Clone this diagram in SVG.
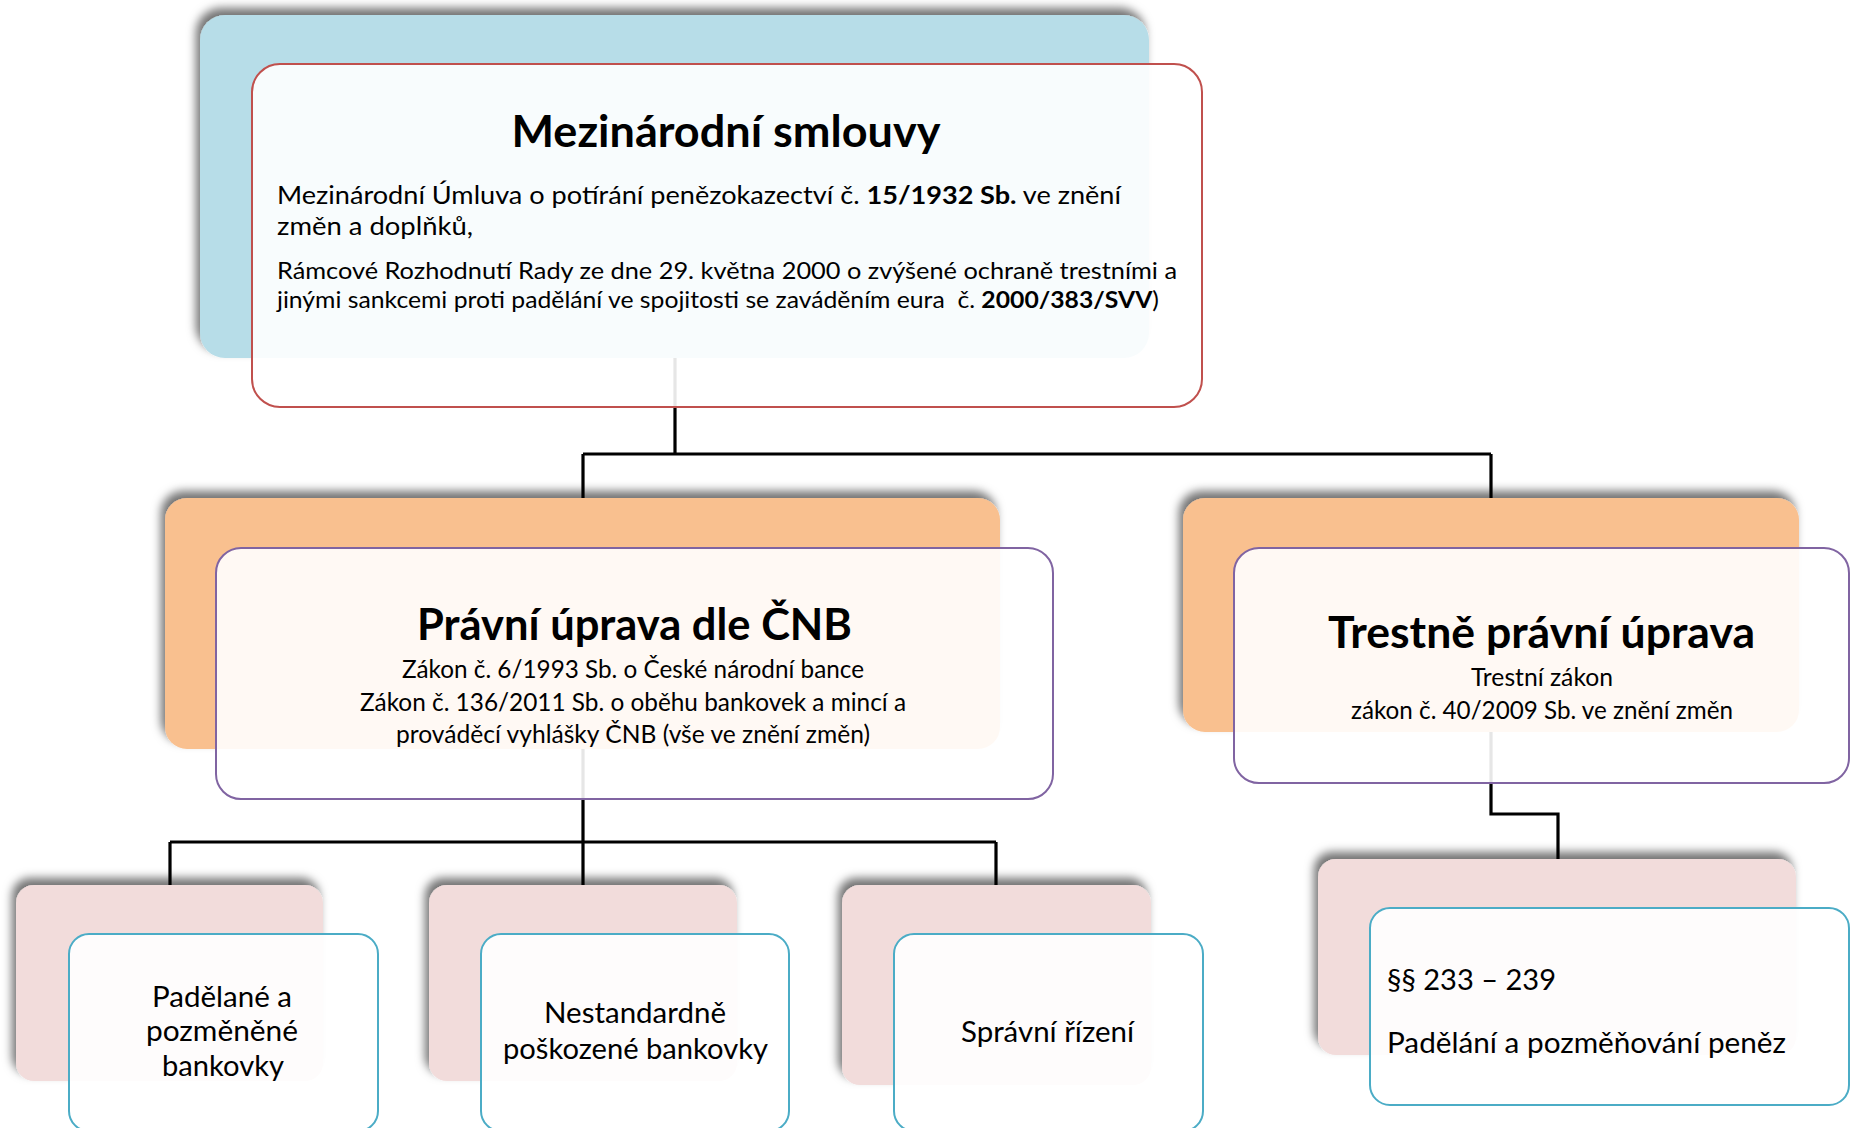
<svg xmlns="http://www.w3.org/2000/svg" width="1855" height="1128" viewBox="0 0 1855 1128">
<style>
text{font-family:"Lato","Noto Sans","Liberation Sans",sans-serif;fill:#000}
.t{font-weight:bold;font-size:43px;text-anchor:middle}
.b{font-size:25px}
.s{font-size:23px}
.c{text-anchor:middle}
.m{font-size:28px}
.front{fill:#fff;fill-opacity:0.9;stroke-width:2}
.red{stroke:#c0504d}
.pur{stroke:#8064a2}
.teal{stroke:#4bacc6}
.conn{fill:none;stroke:#000;stroke-width:3.2}
</style>
<defs>
<filter id="sh" x="-10%" y="-20%" width="120%" height="140%">
<feGaussianBlur in="SourceAlpha" stdDeviation="5"/>
<feOffset dx="-4" dy="-7" result="o"/>
<feFlood flood-color="#000" flood-opacity="0.55"/>
<feComposite in2="o" operator="in"/>
<feMerge><feMergeNode/><feMergeNode in="SourceGraphic"/></feMerge>
</filter>
</defs>
<rect width="1855" height="1128" fill="#fff"/>
<g id="connectors">
<path class="conn" d="M675 340V454M583 454H1491M583 454V510M1491 454V510"/>
<path class="conn" d="M583 740V842M170 842H996M170 842V895M583 842V895M996 842V895"/>
<path class="conn" d="M1491 720V814H1558V870"/>
</g>
<g id="node-mezinarodni">
<rect x="200" y="15" width="949" height="343" rx="25" fill="#b7dde8" filter="url(#sh)"/>
<rect class="front red" x="252" y="64" width="950" height="343" rx="28"/>
<text class="t" x="726" y="147" textLength="429" lengthAdjust="spacingAndGlyphs">Mezinárodní smlouvy</text>
<text class="b" x="277" y="204" textLength="844" lengthAdjust="spacingAndGlyphs">Mezinárodní Úmluva o potírání penězokazectví č. <tspan font-weight="bold">15/1932 Sb.</tspan> ve znění</text>
<text class="b" x="277" y="235" textLength="196" lengthAdjust="spacingAndGlyphs">změn a doplňků,</text>
<text class="s" x="277" y="279" textLength="900" lengthAdjust="spacingAndGlyphs">Rámcové Rozhodnutí Rady ze dne 29. května 2000 o zvýšené ochraně trestními a</text>
<text class="s" x="277" y="308" textLength="882" lengthAdjust="spacingAndGlyphs" style="white-space:pre">jinými sankcemi proti padělání ve spojitosti se zaváděním eura  č. <tspan font-weight="bold">2000/383/SVV</tspan>)</text>
</g>
<g id="node-cnb">
<rect x="165" y="498" width="835" height="251" rx="22" fill="#f9c08f" filter="url(#sh)"/>
<rect class="front pur" x="216" y="548" width="837" height="251" rx="25"/>
<text class="t" x="634.5" y="640" textLength="435" lengthAdjust="spacingAndGlyphs">Právní úprava dle ČNB</text>
<text class="b c" x="633" y="678" textLength="462" lengthAdjust="spacingAndGlyphs">Zákon č. 6/1993 Sb. o České národní bance</text>
<text class="b c" x="633" y="711" textLength="546" lengthAdjust="spacingAndGlyphs">Zákon č. 136/2011 Sb. o oběhu bankovek a mincí a</text>
<text class="b c" x="633" y="743" textLength="474" lengthAdjust="spacingAndGlyphs">prováděcí vyhlášky ČNB (vše ve znění změn)</text>
</g>
<g id="node-trestne">
<rect x="1183" y="498" width="616" height="234" rx="22" fill="#f9c08f" filter="url(#sh)"/>
<rect class="front pur" x="1234" y="548" width="615" height="235" rx="25"/>
<text class="t" x="1541.5" y="648" textLength="427" lengthAdjust="spacingAndGlyphs">Trestně právní úprava</text>
<text class="b c" x="1542" y="686" textLength="142" lengthAdjust="spacingAndGlyphs">Trestní zákon</text>
<text class="b c" x="1542" y="719" textLength="382" lengthAdjust="spacingAndGlyphs">zákon č. 40/2009 Sb. ve znění změn</text>
</g>
<g id="node-padelane">
<rect x="16" y="885" width="307" height="196" rx="18" fill="#f2dcdb" filter="url(#sh)"/>
<rect class="front teal" x="69" y="934" width="309" height="197" rx="20"/>
<text class="m c" x="222" y="1007" textLength="140" lengthAdjust="spacingAndGlyphs">Padělané a</text>
<text class="m c" x="222" y="1041" textLength="152" lengthAdjust="spacingAndGlyphs">pozměněné</text>
<text class="m c" x="223" y="1076" textLength="122" lengthAdjust="spacingAndGlyphs">bankovky</text>
</g>
<g id="node-nestandardne">
<rect x="429" y="885" width="308" height="196" rx="18" fill="#f2dcdb" filter="url(#sh)"/>
<rect class="front teal" x="481" y="934" width="308" height="197" rx="20"/>
<text class="m c" x="635" y="1023" textLength="182" lengthAdjust="spacingAndGlyphs">Nestandardně</text>
<text class="m c" x="635.5" y="1059" textLength="265" lengthAdjust="spacingAndGlyphs">poškozené bankovky</text>
</g>
<g id="node-spravni">
<rect x="842" y="885" width="309" height="200" rx="18" fill="#f2dcdb" filter="url(#sh)"/>
<rect class="front teal" x="894" y="934" width="309" height="197" rx="20"/>
<text class="m c" x="1047.5" y="1042" textLength="173" lengthAdjust="spacingAndGlyphs">Správní řízení</text>
</g>
<g id="node-paragrafy">
<rect x="1318" y="859" width="478" height="196" rx="18" fill="#f2dcdb" filter="url(#sh)"/>
<rect class="front teal" x="1370" y="908" width="479" height="197" rx="20"/>
<text class="m" x="1387" y="990" textLength="169" lengthAdjust="spacingAndGlyphs">§§ 233 – 239</text>
<text class="m" x="1387" y="1053" textLength="399" lengthAdjust="spacingAndGlyphs">Padělání a pozměňování peněz</text>
</g>
</svg>
